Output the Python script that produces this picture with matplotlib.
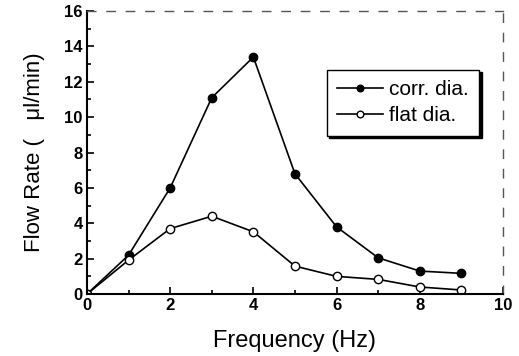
import matplotlib
matplotlib.use("Agg")
import matplotlib.pyplot as plt
from matplotlib.ticker import MultipleLocator

freq = [0, 1, 2, 3, 4, 5, 6, 7, 8, 9]
corr_dia = [0.0, 2.2, 6.0, 11.1, 13.4, 6.8, 3.8, 2.05, 1.3, 1.17]
flat_dia = [0.0, 1.92, 3.7, 4.4, 3.52, 1.58, 1.0, 0.83, 0.4, 0.23]

plt.rcParams['font.family'] = ['Liberation Sans', 'DejaVu Sans']

fig = plt.figure(figsize=(5.19, 3.56), dpi=100)
ax = fig.add_axes([0.1676, 0.174, 0.8014, 0.795])

ax.plot(freq, corr_dia, '-o', color='black', lw=1.2, ms=6,
        markerfacecolor='black', markeredgecolor='black', label='corr. dia.')
ax.plot(freq, flat_dia, '-o', color='black', lw=1.2, ms=6,
        markerfacecolor='white', markeredgecolor='black', label='flat dia.')

ax.set_xlim(0, 10)
ax.set_ylim(0, 16)
ax.xaxis.set_major_locator(MultipleLocator(2))
ax.xaxis.set_minor_locator(MultipleLocator(1))
ax.yaxis.set_major_locator(MultipleLocator(2))
ax.yaxis.set_minor_locator(MultipleLocator(1))
ax.tick_params(which='both', direction='in', top=False, right=False, width=1.2)
ax.tick_params(which='major', length=5, labelsize=12, pad=3)
ax.tick_params(which='minor', length=3)
for lab in ax.get_xticklabels() + ax.get_yticklabels():
    lab.set_fontweight('bold')

for s in ['left', 'bottom']:
    ax.spines[s].set_linewidth(1.5)
for s in ['top', 'right']:
    ax.spines[s].set_linewidth(1.0)
    ax.spines[s].set_linestyle((0, (6, 8)))
    ax.spines[s].set_color('#555555')

ax.set_xlabel('Frequency (Hz)', fontsize=17, labelpad=12)
ax.set_ylabel('Flow Rate (   μl/min)', fontsize=16, labelpad=14)

leg = ax.legend(loc='upper right', bbox_to_anchor=(0.968, 0.83), fontsize=15,
                frameon=True, fancybox=False, shadow={'color': 'black', 'alpha': 1.0},
                edgecolor='black', handlelength=2.2, handletextpad=0.3,
                borderpad=0.5, labelspacing=0.35, markerscale=0.8)
leg.get_frame().set_linewidth(1.0)

fig.savefig('out.png', dpi=100)
